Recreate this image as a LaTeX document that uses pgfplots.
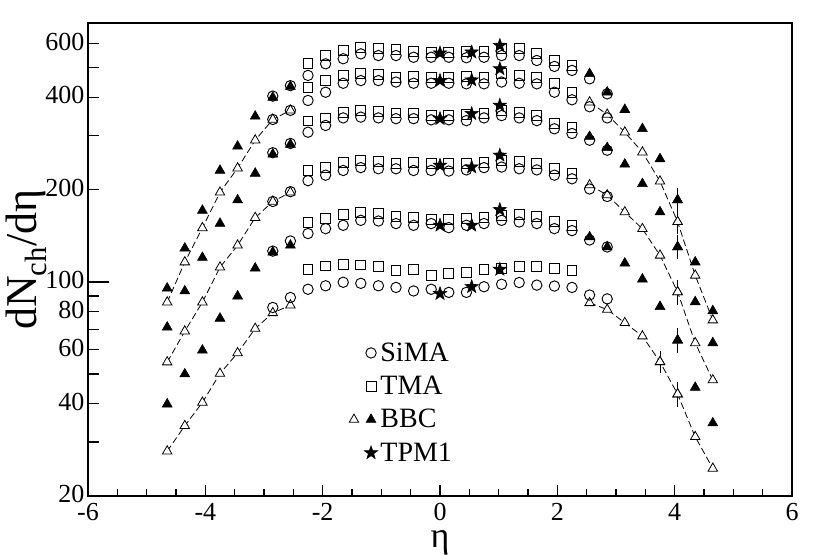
\documentclass[border=0pt]{standalone}
\usepackage{pgfplots}
\pgfplotsset{compat=1.18}
\usepackage{fontspec}
\setmainfont{Liberation Serif}

% filled five-pointed star for TPM1
\pgfdeclareplotmark{fstar}{%
  \pgfpathmoveto{\pgfqpointpolar{90}{\pgfplotmarksize}}%
  \pgfpathlineto{\pgfqpointpolar{126}{0.4\pgfplotmarksize}}%
  \pgfpathlineto{\pgfqpointpolar{162}{\pgfplotmarksize}}%
  \pgfpathlineto{\pgfqpointpolar{198}{0.4\pgfplotmarksize}}%
  \pgfpathlineto{\pgfqpointpolar{234}{\pgfplotmarksize}}%
  \pgfpathlineto{\pgfqpointpolar{270}{0.4\pgfplotmarksize}}%
  \pgfpathlineto{\pgfqpointpolar{306}{\pgfplotmarksize}}%
  \pgfpathlineto{\pgfqpointpolar{342}{0.4\pgfplotmarksize}}%
  \pgfpathlineto{\pgfqpointpolar{18}{\pgfplotmarksize}}%
  \pgfpathlineto{\pgfqpointpolar{54}{0.4\pgfplotmarksize}}%
  \pgfpathclose
  \pgfusepathqfillstroke
}

\pgfplotsset{
  sima/.style={only marks, mark=o, mark size=3.9pt, black, line width=0.7pt},
  tma/.style={only marks, mark=square, mark size=3.7pt, black, line width=0.7pt},
  bbco/.style={black, line width=0.6pt, dash pattern=on 5pt off 2.5pt,
               mark=triangle*, mark size=4.1pt, mark options={solid, fill=white}},
  bbcf/.style={only marks, black, mark=triangle*, mark size=4.3pt, mark options={fill=black}},
  tpm/.style={only marks, black, mark=fstar, mark size=5.3pt, mark options={fill=black}},
  ebar/.style={only marks, error bars/y dir=both, error bars/y explicit relative,
               error bars/error bar style={solid, line width=0.6pt, black},
               error bars/error mark options={solid, mark size=3pt, line width=0.6pt}},
}

\begin{document}
\begin{tikzpicture}
\begin{axis}[
    scale only axis, width=528pt, height=354.75pt,
    xmin=-6, xmax=6, ymode=log, ymin=20, ymax=700,
    axis line style={line width=1.4pt},
    tick align=inside, xtick pos=bottom, ytick pos=left,
    tick style={black, line width=1pt},
    xtick={-6,-4,-2,0,2,4,6}, xticklabels={-6,-4,-2,0,2,4,6},
    minor x tick num=3,
    major tick length=8.5pt, minor tick length=5pt,
    ytick={20,30,40,50,60,70,80,90,200,300,400,500,600},
    yticklabels={20,,40,,60,,80,,200,,400,,600},
    extra y ticks={100}, extra y tick labels={100},
    extra y tick style={major tick length=15.75pt},
    tick label style={font=\fontsize{19.5}{19.5}\selectfont},
    yticklabel style={inner sep=0pt, xshift=-2.5pt, yshift=1.5pt},
    xticklabel style={inner sep=0pt, yshift=-5.5pt},
    xlabel={η}, ylabel={dN\textsubscript{ch}/dη},
    xlabel style={font=\fontsize{27}{27}\selectfont, inner sep=0pt, at={(axis description cs:0.5,-0.1)}, anchor=center},
    ylabel style={font=\fontsize{33}{33}\selectfont, inner sep=0pt, at={(axis description cs:-0.087,0.5)}, anchor=center},
    legend style={draw=none, fill=none, at={(rel axis cs:0.365,0.336)}, anchor=north west,
                  font=\fontsize{21}{21}\selectfont, row sep=5.6pt},
    legend cell align=left,
]
% ---------- legend ----------
\addlegendimage{sima, legend image code/.code={\draw plot coordinates {(0.45cm,0cm)};}}
\addlegendentry{SiMA}
\addlegendimage{tma, legend image code/.code={\draw plot coordinates {(0.45cm,0cm)};}}
\addlegendentry{TMA}
\addlegendimage{legend image code/.code={
    \draw[black, line width=0.6pt, mark=triangle*, mark size=4.1pt, mark options={fill=white}] plot coordinates {(0cm,0cm)};
    \draw[black, mark=triangle*, mark size=4.3pt, mark options={fill=black}] plot coordinates {(0.45cm,0cm)};}}
\addlegendentry{BBC}
\addlegendimage{tpm, legend image code/.code={\draw plot coordinates {(0.45cm,0cm)};}}
\addlegendentry{TPM1}

% ---------- BBC, open triangles with dashed lines ----------
% centrality 1
\addplot[bbco, forget plot] coordinates {(-4.65,28.0)(-4.35,33.9)(-4.05,40.4)(-3.75,50.2)(-3.45,58.6)(-3.15,70.4)(-2.85,79.2)(-2.55,83.9)};
\addplot[bbco, forget plot] coordinates {(2.55,85.4)(2.85,81.2)(3.15,73.5)(3.45,66.5)(3.75,54.8)(4.05,43.0)(4.35,31.2)(4.65,24.6)};
\addplot[forget plot, bbco, ebar] coordinates {(3.75,54.8) +- (0,0.05) (4.05,43.0) +- (0,0.065)};
% centrality 3
\addplot[bbco, forget plot] coordinates {(-4.65,54.7)(-4.35,69)(-4.05,85.8)(-3.75,111.6)(-3.45,131.6)(-3.15,162)(-2.85,183)(-2.55,196)};
\addplot[bbco, forget plot] coordinates {(2.55,207)(2.85,192)(3.15,169)(3.45,149)(3.75,122)(4.05,92.7)(4.35,63.2)(4.65,47.8)};
\addplot[forget plot, bbco, ebar] coordinates {(4.05,92.7) +- (0,0.065)};
% centrality 5
\addplot[bbco, forget plot] coordinates {(-4.65,85.8)(-4.35,116)(-4.05,150)(-3.75,196)(-3.45,235)(-3.15,290)(-2.85,339)(-2.55,363)};
\addplot[bbco, forget plot] coordinates {(2.55,386)(2.85,352)(3.15,308)(3.45,265)(3.75,213)(4.05,157)(4.35,105)(4.65,75)};
\addplot[forget plot, bbco, ebar] coordinates {(4.05,157) +- (0,0.06)};

% ---------- BBC, filled triangles ----------
% centrality 2
\addplot[bbcf, forget plot] coordinates {(-4.65,39.9)(-4.35,50)(-4.05,59.8)(-3.75,76)(-3.45,89.8)(-3.15,110.8)(-2.85,125)(-2.55,131.6)
  (2.55,140)(2.85,130)(3.15,115)(3.45,102)(3.75,83)(4.05,64.5)(4.35,45.2)(4.65,34.6)};
\addplot[forget plot, bbcf, ebar] coordinates {(4.05,64.5) +- (0,0.065)};
% centrality 4
\addplot[bbcf, forget plot] coordinates {(-4.65,71.1)(-4.35,93.3)(-4.05,120)(-3.75,155)(-3.45,185)(-3.15,226)(-2.85,261)(-2.55,281)
  (2.55,298)(2.85,274)(3.15,242)(3.45,209)(3.75,169)(4.05,130)(4.35,86)(4.65,63.2)};
\addplot[forget plot, bbcf, ebar] coordinates {(4.05,130) +- (0,0.06)};
% centrality 6
\addplot[bbcf, forget plot] coordinates {(-4.65,95.3)(-4.35,128.7)(-4.05,171)(-3.75,231)(-3.45,277)(-3.15,347)(-2.85,400)(-2.55,434)
  (2.55,478)(2.85,416)(3.15,365)(3.45,316)(3.75,252)(4.05,185)(4.35,116)(4.65,80.4)};
\addplot[forget plot, bbcf, ebar] coordinates {(4.05,185) +- (0,0.06)};

% ---------- SiMA ----------
\addplot[sima, forget plot] coordinates {(-2.85,82.5)(-2.55,88.9)(-2.25,94.6)(-1.95,97.1)(-1.65,99.7)(-1.35,98.9)(-1.05,97.1)(-0.75,95.9)(-0.45,93.4)(-0.15,94.6)
  (0.15,92.4)(0.45,92.4)(0.75,96.4)(1.05,98.2)(1.35,99.5)(1.65,97.6)(1.95,96.9)(2.25,95.9)(2.55,90.6)(2.85,88.0)};
\addplot[sima, forget plot] coordinates {(-2.85,126)(-2.55,136)(-2.25,143.8)(-1.95,149.2)(-1.65,153)(-1.35,158.8)(-1.05,158)(-0.75,155)(-0.45,153)(-0.15,155)
  (0.15,150.3)(0.45,153)(0.75,155)(1.05,158.8)(1.35,156.8)(1.65,155)(1.95,149.2)(2.25,147)(2.55,137)(2.85,130)};
\addplot[sima, forget plot] coordinates {(-2.85,183)(-2.55,197)(-2.25,214)(-1.95,223)(-1.65,231)(-1.35,236)(-1.05,234)(-0.75,234)(-0.45,231)(-0.15,231)
  (0.15,230)(0.45,232)(0.75,236)(1.05,237)(1.35,234)(1.65,232)(1.95,223)(2.25,217)(2.55,201)(2.85,190)};
\addplot[sima, forget plot] coordinates {(-2.85,264)(-2.55,283)(-2.25,308)(-1.95,324)(-1.65,343)(-1.35,345)(-1.05,343)(-0.75,341)(-0.45,341)(-0.15,338)
  (0.15,338)(0.45,336)(0.75,343)(1.05,349)(1.35,343)(1.65,336)(1.95,316)(2.25,305)(2.55,290)(2.85,269)};
\addplot[sima, forget plot] coordinates {(-2.85,339)(-2.55,363)(-2.25,391)(-1.95,416)(-1.65,445)(-1.35,454)(-1.05,454)(-0.75,449)(-0.45,445)(-0.15,445)
  (0.15,445)(0.45,443)(0.75,443)(1.05,449)(1.35,445)(1.65,443)(1.95,416)(2.25,393)(2.55,373)(2.85,343)};
\addplot[sima, forget plot] coordinates {(-2.85,404)(-2.55,437)(-2.25,472)(-1.95,515)(-1.65,535)(-1.35,555)(-1.05,548)(-0.75,548)(-0.45,541)(-0.15,541)
  (0.15,541)(0.45,539)(0.75,541)(1.05,548)(1.35,548)(1.65,528)(1.95,505)(2.25,490)(2.55,460)(2.85,411)};

% ---------- TMA ----------
\addplot[tma, forget plot] coordinates {(-2.25,110)(-1.95,112.7)(-1.65,114)(-1.35,113.5)(-1.05,112)(-0.75,108.6)(-0.45,110)(-0.15,105.1)
  (0.15,106.4)(0.45,107.2)(0.75,109.8)(1.05,110.6)(1.35,112)(1.65,112)(1.95,110.6)(2.25,109)};
\addplot[tma, forget plot] coordinates {(-2.25,156)(-1.95,161)(-1.65,166)(-1.35,168)(-1.05,167)(-0.75,163)(-0.45,162)(-0.15,160)
  (0.15,160)(0.45,161)(0.75,162)(1.05,165)(1.35,166)(1.65,163)(1.95,157)(2.25,153)};
\addplot[tma, forget plot] coordinates {(-2.25,231)(-1.95,237)(-1.65,246)(-1.35,249)(-1.05,247)(-0.75,244)(-0.45,246)(-0.15,243)
  (0.15,243)(0.45,243)(0.75,246)(1.05,249)(1.35,247)(1.65,244)(1.95,234)(2.25,226)};
\addplot[tma, forget plot] coordinates {(-2.25,335)(-1.95,343)(-1.65,358)(-1.35,363)(-1.05,360)(-0.75,356)(-0.45,356)(-0.15,349)
  (0.15,349)(0.45,352)(0.75,354)(1.05,363)(1.35,358)(1.65,349)(1.95,328)(2.25,320)};
\addplot[tma, forget plot] coordinates {(-2.25,432)(-1.95,454)(-1.65,472)(-1.35,478)(-1.05,475)(-0.75,466)(-0.45,468)(-0.15,466)
  (0.15,466)(0.45,467)(0.75,466)(1.05,478)(1.35,472)(1.65,466)(1.95,443)(2.25,416)};
\addplot[tma, forget plot] coordinates {(-2.25,515)(-1.95,548)(-1.65,569)(-1.35,583)(-1.05,577)(-0.75,572)(-0.45,566)(-0.15,562)
  (0.15,562)(0.45,566)(0.75,566)(1.05,577)(1.35,577)(1.65,555)(1.95,528)(2.25,509)};

% ---------- TPM1 ----------
\addplot[tpm, forget plot] coordinates {(0,91.5)(0.54,96.4)(1.02,109.8)};
\addplot[tpm, forget plot] coordinates {(0,153)(0.54,153)(1.02,172)};
\addplot[tpm, forget plot] coordinates {(0,240)(0.54,237)(1.02,259)};
\addplot[tpm, forget plot] coordinates {(0,341)(0.54,354)(1.02,377)};
\addplot[tpm, forget plot] coordinates {(0,454)(0.54,456)(1.02,496)};
\addplot[tpm, forget plot] coordinates {(0,558)(0.54,562)(1.02,591)};
\end{axis}
\pgfresetboundingbox
\path[use as bounding box] ([shift={(-66pt,-43.5pt)}]current axis.south west) rectangle ([shift={(18.75pt,17.25pt)}]current axis.north east);
\end{tikzpicture}
\end{document}
